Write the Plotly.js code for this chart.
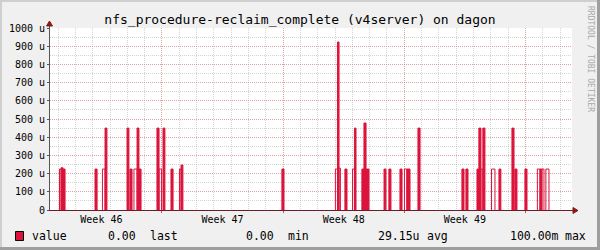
<!DOCTYPE html>
<html><head><meta charset="utf-8">
<script src="https://cdn.plot.ly/plotly-3.0.1.min.js"></script>
<style>html,body{margin:0;padding:0;background:#f0f0f0}#chart{width:600px;height:250px}</style>
</head><body><div id="chart"></div>
<script>
// Time in days since the start of ISO week 46; values in micro-units (u)
const segStart = [1.08,1.17,1.28,3.13,3.56,3.71,4.98,5.15,5.38,5.56,5.67,6.71,6.83,7.06,7.52,8.01,8.10,13.93,17.02,17.14,17.23,17.57,18.01,18.12,18.55,18.67,18.79,19.83,20.11,20.75,21.01,21.15,21.79,24.33,24.56,25.20,25.31,25.43,25.54,26.04,26.47,27.22,27.39,27.97,28.69,28.84,28.95,29.18];
const segEnd   = [1.17,1.28,1.40,3.25,3.71,3.82,5.09,5.27,5.56,5.67,5.79,6.83,6.97,7.17,7.64,8.10,8.21,14.05,17.14,17.23,17.31,17.69,18.12,18.21,18.67,18.79,18.96,19.94,20.23,20.87,21.15,21.33,21.91,24.45,24.68,25.31,25.43,25.54,25.66,26.24,26.58,27.34,27.51,28.09,28.84,28.95,29.07,29.36];
const segValue = [225,232,225,225,225,450,450,225,225,450,225,450,225,450,225,225,247,225,225,923,230,225,225,450,225,478,225,225,225,225,225,225,450,225,225,225,450,225,450,225,225,450,225,225,225,225,225,225];
const segFilled = [0,1,1,1,0,1,1,1,0,1,1,1,0,1,1,0,1,1,0,1,0,1,0,1,1,1,1,1,1,1,0,1,1,1,1,1,1,0,1,0,1,1,1,1,0,1,0,0];

const xRange = [0.53, 30.69];
const weekBoundaries = [7, 14, 21, 28];
const weekCenters = [3.5, 10.5, 17.5, 24.5];
const weekLabels = ['Week 46', 'Week 47', 'Week 48', 'Week 49'];
const yTickVals = [0,100,200,300,400,500,600,700,800,900,1000];
const yTickText = ['0','100 u','200 u','300 u','400 u','500 u','600 u','700 u','800 u','900 u','1000 u'];

const legendName = 'value';
const legendTexts = ['0.00', 'last', '0.00', 'min', '29.15u', 'avg', '100.00m', 'max'];
const legendTextPx = [105.7, 147.7, 244.3, 286, 376, 425, 507.7, 563.3];

const titleText = 'nfs_procedure-reclaim_complete (v4server) on dagon';
const sideText = 'RRDTOOL / TOBI OETIKER';

const RED = '#DC143C';
const MONO = 'DejaVu Sans Mono, monospace';

// build traces
const outX = [], outY = [], fillX = [], fillY = [];
for (let i = 0; i < segStart.length; i++) {
  const s = segStart[i], e = segEnd[i], v = segValue[i];
  outX.push(s, s, e, e, null); outY.push(0, v, v, 0, null);
  if (segFilled[i]) { fillX.push(s, s, e, e, s, null); fillY.push(0, v, v, 0, 0, null); }
}

// canvas-pixel -> paper helpers (plot area: x 50..572, y 28..210)
const L = 50, R = 572, T = 28, B = 210;
const px = x => (x - L) / (R - L);
const py = y => (B - y) / (B - T);

const traces = [
  {x: fillX, y: fillY, mode: 'lines', fill: 'toself', fillcolor: RED,
   line: {width: 0, color: RED}, hoverinfo: 'skip', showlegend: false},
  {x: outX, y: outY, mode: 'lines', line: {width: 1, color: RED},
   connectgaps: false, hoverinfo: 'skip', showlegend: false},
  {x: weekCenters, y: weekCenters.map(() => null), xaxis: 'x2', mode: 'markers',
   hoverinfo: 'skip', showlegend: false}
];

const annotations = [
  {xref: 'paper', yref: 'paper', x: px(30), y: py(236), xanchor: 'left', yanchor: 'middle',
   text: legendName, showarrow: false, font: {family: MONO, size: 11.5, color: '#000'}},
  {xref: 'paper', yref: 'paper', x: px(590), y: py(59), xanchor: 'center', yanchor: 'middle',
   text: sideText, textangle: 90, showarrow: false, font: {family: MONO, size: 8, color: '#a8a8a8'}}
];
legendTexts.forEach((t, i) => annotations.push({
  xref: 'paper', yref: 'paper', x: px(legendTextPx[i]), y: py(236), xanchor: 'left', yanchor: 'middle',
  text: t, showarrow: false, font: {family: MONO, size: 11.5, color: '#000'}
}));

const rect = (x0, y0, x1, y1, color) => ({type: 'rect', xref: 'paper', yref: 'paper',
  x0: px(x0), x1: px(x1), y0: py(y0), y1: py(y1), fillcolor: color, line: {width: 0}, layer: 'above'});

const shapes = [
  rect(0, 0, 600, 2, '#cfcfcf'),
  rect(0, 0, 2, 250, '#cfcfcf'),
  rect(0, 247, 600, 250, '#9e9e9e'),
  rect(597, 0, 600, 250, '#9e9e9e'),
  // legend swatch
  {type: 'rect', xref: 'paper', yref: 'paper', x0: px(15.5), x1: px(23.5), y0: py(231.5), y1: py(240.5),
   fillcolor: RED, line: {color: '#000', width: 1}},
  // axis extensions and arrows
  {type: 'line', xref: 'paper', yref: 'paper', x0: px(49.5), x1: px(49.5), y0: py(28), y1: py(25),
   line: {color: '#555', width: 1}},
  {type: 'path', xref: 'paper', yref: 'paper',
   path: `M ${px(49.5)} ${py(21)} L ${px(46.5)} ${py(26)} L ${px(52.5)} ${py(26)} Z`,
   fillcolor: '#8b1a1a', line: {color: '#8b1a1a', width: 1}},
  {type: 'line', xref: 'paper', yref: 'paper', x0: px(572), x1: px(574), y0: py(210.5), y1: py(210.5),
   line: {color: '#6b1b2b', width: 1}},
  {type: 'path', xref: 'paper', yref: 'paper',
   path: `M ${px(578)} ${py(210.5)} L ${px(573)} ${py(207.5)} L ${px(573)} ${py(213.5)} Z`,
   fillcolor: '#8b1a1a', line: {color: '#8b1a1a', width: 1}}
];

const layout = {
  width: 600, height: 250,
  margin: {l: L, r: 600 - R, t: T, b: 250 - B, pad: 0},
  paper_bgcolor: '#f0f0f0', plot_bgcolor: '#ffffff',
  showlegend: false,
  title: {text: titleText, font: {family: MONO, size: 13, color: '#000'},
          x: 0.5, xref: 'container', xanchor: 'center', y: 1 - 19 / 250, yref: 'container', yanchor: 'middle'},
  xaxis: {range: xRange, tickmode: 'array', tickvals: weekBoundaries, showticklabels: false,
          showgrid: true, gridcolor: 'rgba(235,100,100,0.45)', griddash: '1px,1px', gridwidth: 1,
          minor: {tickmode: 'linear', tick0: 0, dtick: 1, showgrid: true,
                  gridcolor: 'rgba(170,170,170,0.5)', griddash: '1px,1px', gridwidth: 1},
          ticks: 'outside', ticklen: 2, tickcolor: '#d05050',
          showline: true, linecolor: '#6b1b2b', linewidth: 1, zeroline: false, fixedrange: true},
  xaxis2: {overlaying: 'x', anchor: 'y', side: 'bottom', range: xRange, tickmode: 'array',
           tickvals: weekCenters, ticktext: weekLabels, showgrid: false, zeroline: false, showline: false,
           ticks: '', ticklabelstandoff: 2, tickfont: {family: MONO, size: 10, color: '#000'}},
  yaxis: {range: [0, 1000], tickmode: 'array', tickvals: yTickVals, ticktext: yTickText,
          tickfont: {family: MONO, size: 10, color: '#000'},
          showgrid: true, gridcolor: 'rgba(235,100,100,0.45)', griddash: '1px,1px', gridwidth: 1,
          minor: {tickmode: 'linear', tick0: 0, dtick: 50, showgrid: true,
                  gridcolor: 'rgba(170,170,170,0.5)', griddash: '1px,1px', gridwidth: 1},
          ticks: 'outside', ticklen: 2, tickcolor: '#555',
          showline: true, linecolor: '#555', linewidth: 1, zeroline: false, fixedrange: true},
  annotations: annotations,
  shapes: shapes
};

Plotly.newPlot('chart', traces, layout, {staticPlot: true, displayModeBar: false});
</script>
</body></html>
